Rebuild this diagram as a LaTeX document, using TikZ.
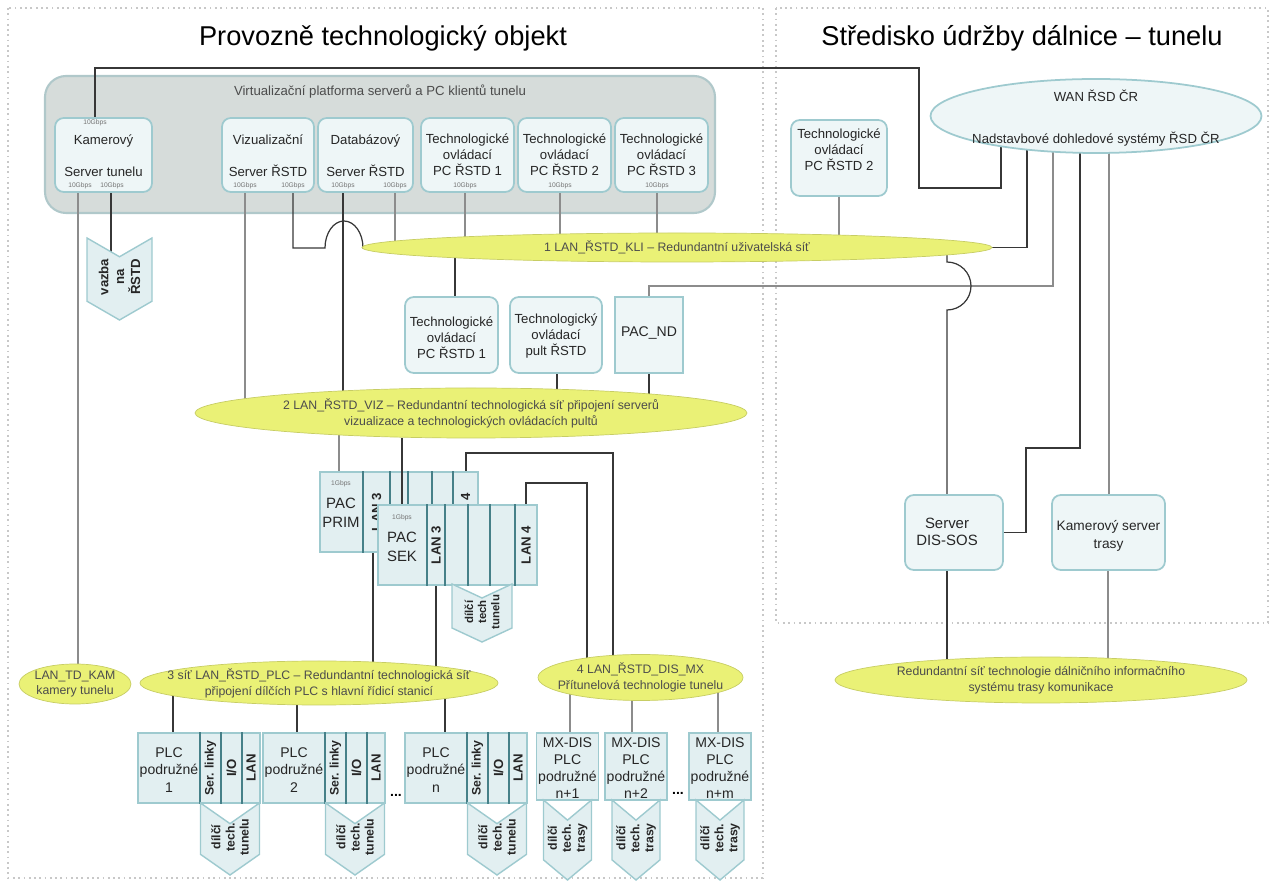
\documentclass[tikz,border=0pt]{standalone}
\usepackage{fontspec}
\setmainfont{Liberation Sans}
\usetikzlibrary{shapes.geometric,shapes.symbols}

\definecolor{lanfill}{RGB}{234,241,118}
\definecolor{platfill}{RGB}{214,220,218}
\definecolor{platedge}{RGB}{176,200,202}
\definecolor{boxfill}{RGB}{238,246,247}
\definecolor{boxedge}{RGB}{158,202,207}
\definecolor{pacfill}{RGB}{226,239,241}
\definecolor{sepline}{RGB}{70,128,136}
\definecolor{wirec}{RGB}{55,55,55}
\definecolor{framec}{RGB}{200,200,200}

\newdimen\px \px=0.02cm
\pgfdeclarelayer{back}
\pgfdeclarelayer{wires}
\pgfsetlayers{back,wires,main}

\tikzset{
  frm/.style={draw=framec, dotted, line width=1pt},
  ttl/.style={font=\fontsize{15.5}{18}\selectfont},
  box/.style={draw=boxedge, fill=boxfill, rounded corners=5pt, line width=1pt},
  txt/.style={align=center, inner sep=0pt, text=black!85, font=\fontsize{7.5}{9}\selectfont},
  rate/.style={inner sep=0pt, text=black!55, font=\fontsize{3.8}{4}\selectfont},
  lan/.style={ellipse, fill=lanfill, draw=lanfill!85!black, line width=0.4pt, inner sep=0pt},
  lantxt/.style={align=center, inner sep=0pt, text=black!70, font=\fontsize{7}{9}\selectfont},
  pac/.style={draw=boxedge, fill=pacfill, line width=0.8pt, inner sep=0pt},
  sepl/.style={draw=sepline, line width=0.6pt},
  col/.style={rotate=90, inner sep=0pt, text=black!85, font=\bfseries\fontsize{7.5}{8}\selectfont},
  chev/.style={signal, signal to=west, signal from=east, signal pointer angle=110, rotate=90,
    draw=boxedge, fill=pacfill, line width=0.8pt, inner sep=0pt},
  chevt/.style={rotate=90, align=center, inner sep=0pt, text=black!85,
    font=\bfseries\fontsize{7}{8}\selectfont},
  wire/.style={draw=wirec, line width=0.7pt},
  lwire/.style={draw=black!45, line width=0.7pt},
}

\begin{document}
\begin{tikzpicture}[x=0.02cm, y=-0.02cm]
\useasboundingbox (0,0) rectangle (1275,884);

\begin{pgfonlayer}{back}
\draw[frm] (8,8) rectangle (763,878);
\draw[frm] (776,8) rectangle (1268,623);
\node[draw=platedge, fill=platfill, rounded corners=12pt, line width=1.2pt,
  minimum width=670*\px, minimum height=137*\px] (plat) at (380,144.5) {};
\end{pgfonlayer}

% titles
\node[ttl] (t1) at (383,38) {Provozně technologický objekt};
\node[ttl] (t2) at (1022,38) {Středisko údržby dálnice – tunelu};
\node[txt, text=black!70] (platt) at (380,92) {Virtualizační platforma serverů a PC klientů tunelu};

% servers on the platform
\node[box, minimum width=97*\px, minimum height=74*\px] (kam) at (103.5,155) {};
\node[box, minimum width=92*\px, minimum height=74*\px] (viz) at (268,155) {};
\node[box, minimum width=95*\px, minimum height=74*\px] (db) at (365.5,155) {};
\node[box, minimum width=93*\px, minimum height=74*\px] (pc1) at (467.5,155) {};
\node[box, minimum width=93*\px, minimum height=74*\px] (pc2) at (564.5,155) {};
\node[box, minimum width=93*\px, minimum height=74*\px] (pc3) at (661.5,155) {};
\node[txt] (kamt) at (103.5,156) {Kamerový\\[9pt]Server tunelu};
\node[txt] (vizt) at (268,156) {Vizualizační\\[9pt]Server ŘSTD};
\node[txt] (dbt) at (365.5,156) {Databázový\\[9pt]Server ŘSTD};
\node[txt] (pc1t) at (467.5,155) {Technologické\\ovládací\\PC ŘSTD 1};
\node[txt] (pc2t) at (564.5,155) {Technologické\\ovládací\\PC ŘSTD 2};
\node[txt] (pc3t) at (661.5,155) {Technologické\\ovládací\\PC ŘSTD 3};
\foreach \i/\x/\y in {1/95/123, 2/80/186, 3/112/186, 4/245/186, 5/293/186, 6/343/186,
  7/395/186, 8/465/186, 9/560/186, 10/657/186, 11/839/181, 12/451.5/306, 13/649/307,
  14/947/507, 15/947/564, 16/992/529, 17/1108.5/507, 18/1108.5/565}
  \node[rate] (r\i) at (\x,\y) {10Gbps};
\node[rate] (r19) at (556,368) {100Mbps};

\node[chev, signal pointer angle=120, minimum width=82*\px, minimum height=65*\px] (vazba) at (119.5,279) {};
\node[chevt, font=\bfseries\fontsize{7.5}{9}\selectfont] (vazbat) at (119.5,277) {vazba\\na\\ŘSTD};

% right part
\node[box, minimum width=96*\px, minimum height=76*\px] (pcr) at (839,158) {};
\node[txt] (pcrt) at (839,150) {Technologické\\ovládací\\PC ŘSTD 2};
\node[ellipse, draw=boxedge, fill=boxfill, line width=1pt, inner sep=0pt,
  minimum width=331*\px, minimum height=74*\px] (wan) at (1096,116) {};
\node[txt] (want) at (1096,118) {WAN ŘSD ČR\\[15pt]Nadstavbové dohledové systémy ŘSD ČR};
\node[box, minimum width=98*\px, minimum height=75*\px] (dis) at (954,532.5) {};
\node[txt, font=\fontsize{8.5}{10}\selectfont] (dist) at (947,532) {Server\\DIS-SOS};
\node[box, minimum width=113*\px, minimum height=75*\px] (kst) at (1108.5,532.5) {};
\node[txt, font=\fontsize{7.8}{10}\selectfont] (kstt) at (1108.5,536) {Kamerový server\\trasy};

% networks
\node[lan, minimum width=630*\px, minimum height=29*\px] (lan1) at (677,247.5) {};
\node[lantxt] (lan1t) at (lan1) {1 LAN\_ŘSTD\_KLI – Redundantní uživatelská síť};
\node[lan, minimum width=552*\px, minimum height=50*\px] (lan2) at (471,413) {};
\node[lantxt] (lan2t) at (lan2) {2 LAN\_ŘSTD\_VIZ – Redundantní technologická síť připojení serverů\\vizualizace a technologických ovládacích pultů};
\node[lan, minimum width=112*\px, minimum height=40*\px] (tdkam) at (75,684) {};
\node[lantxt] (tdkamt) at (tdkam) {LAN\_TD\_KAM\\kamery tunelu};
\node[lan, minimum width=358*\px, minimum height=44*\px] (lan3) at (319,683) {};
\node[lantxt] (lan3t) at (lan3) {3 síť LAN\_ŘSTD\_PLC – Redundantní technologická síť\\připojení dílčích PLC s hlavní řídicí stanicí};
\node[lan, minimum width=205*\px, minimum height=46*\px] (lan4) at (640.5,677.5) {};
\node[lantxt] (lan4t) at (lan4) {4 LAN\_ŘSTD\_DIS\_MX\\Přítunelová technologie tunelu};
\node[lan, minimum width=412*\px, minimum height=46*\px] (lan3r) at (1041,680) {};
\node[lantxt] (lan3rt) at (lan3r) {Redundantní síť technologie dálničního informačního\\systému trasy komunikace};

% operator desks
\node[box, minimum width=93*\px, minimum height=76*\px] (pcl) at (451.5,335) {};
\node[txt] (pclt) at (451.5,338) {Technologické\\ovládací\\PC ŘSTD 1};
\node[box, minimum width=92*\px, minimum height=76*\px] (pult) at (556,335) {};
\node[txt] (pultt) at (556,336) {Technologický\\ovládací\\pult ŘSTD};
\node[box, rounded corners=0pt, minimum width=68*\px, minimum height=76*\px] (pacnd) at (649,335) {};
\node[txt, font=\fontsize{8}{9}\selectfont] (pacndt) at (649,333) {PAC\_ND};

% PAC PRIM / SEK
\node[pac, minimum width=158*\px, minimum height=80*\px] (prim) at (399,512) {};
\foreach \cx in {363,390,408,432,453} \draw[sepl] (prim.north -| \cx,0) -- (prim.south -| \cx,0);
\node[txt, font=\fontsize{8.5}{11}\selectfont] (primt) at (341,513) {PAC\\PRIM};
\node[col] (prim3) at (376.5,512) {LAN 3};
\node[col] (prim4) at (465.5,512) {LAN 4};
\node[rate] (r20) at (341,484) {1Gbps};
\node[pac, minimum width=159*\px, minimum height=80*\px] (sek) at (457.5,545) {};
\foreach \cx in {427,445,468,490,515} \draw[sepl] (sek.north -| \cx,0) -- (sek.south -| \cx,0);
\node[txt, font=\fontsize{8.5}{11}\selectfont] (sekt) at (402,547) {PAC\\SEK};
\node[col] (sek3) at (436,545) {LAN 3};
\node[col] (sek4) at (526,545) {LAN 4};
\node[rate] (r21) at (402,518) {1Gbps};
\node[chev, signal pointer angle=130, minimum width=58*\px, minimum height=60*\px] (sekc) at (482,613) {};
\node[chevt, font=\bfseries\fontsize{6.5}{7.5}\selectfont] (sekct) at (482,612) {dílčí\\tech\\tunelu};

% PLC
\foreach \nm/\lx/\pn in {plc1/138/1, plc2/263/2, plcn/405/n} {
  \node[pac, minimum width=122*\px, minimum height=70*\px] (\nm) at (\lx+61,768) {};
  \foreach \cx in {62,83,104} \draw[sepl] (\nm.north -| \lx+\cx,0) -- (\nm.south -| \lx+\cx,0);
  \node[txt, font=\fontsize{8}{10}\selectfont] (\nm t) at (\lx+31,770) {PLC\\podružné\\\pn};
  \node[col, font=\bfseries\fontsize{7}{8}\selectfont] (\nm s) at (\lx+72.5,768) {Ser. linky};
  \node[col] (\nm i) at (\lx+93.5,768) {I/O};
  \node[col] (\nm l) at (\lx+113,768) {LAN};
  \node[chev, minimum width=72*\px, minimum height=59*\px] (\nm c) at (\lx+92,839) {};
  \node[chevt] (\nm ct) at (\lx+92,837) {dílčí\\tech.\\tunelu};
}
\foreach \nm/\cx/\pn in {mx1/567.5/n+1, mx2/636/n+2, mxm/720/n+m} {
  \node[pac, minimum width=62*\px, minimum height=67*\px] (\nm) at (\cx,766.5) {};
  \node[txt, font=\fontsize{8}{9.6}\selectfont] (\nm t) at (\cx,768) {MX-DIS\\PLC\\podružné\\\pn};
  \node[chev, signal pointer angle=100, minimum width=80*\px, minimum height=48*\px] (\nm c) at (\cx,840) {};
  \node[chevt] (\nm ct) at (\cx,838) {dílčí\\tech.\\trasy};
}
\node[font=\bfseries\fontsize{8}{8}\selectfont] (dots1) at (396,795) {...};
\node[font=\bfseries\fontsize{8}{8}\selectfont] (dots2) at (678,793) {...};

% connections
\begin{pgfonlayer}{wires}
\draw[wire] (kam.north -| 95,0) |- (919,68) |- (1001,188) -- (wan.center -| 1001,0);
\draw[lwire] (kam.south -| 78,0) -- (tdkam.center -| 78,0);
\draw[wire] (kam.south -| 111,0) -- (vazba.center -| 111,0);
\draw[lwire] (viz.south -| 245,0) -- (lan2.center -| 245,0);
\draw[wire] (viz.south -| 293,0) |- (325,248) arc[start angle=180, end angle=360, x radius=19, y radius=27] -- (lan1.center);
\draw[wire] (db.south -| 343,0) -- (lan2.center -| 343,0);
\draw[lwire] (db.south -| 395,0) -- (lan1.center -| 395,0);
\foreach \nm/\tx in {pc1/465, pc2/560, pc3/657} \draw[lwire] (\nm.south -| \tx,0) -- (lan1.center -| \tx,0);
\draw[lwire] (pcr.south) -- (lan1.center -| pcr.south);
\draw[wire] (wan.center -| 1027,0) |- (lan1.center);
\draw[lwire] (wan.center -| 1053,0) |- (pacnd.north |- 0,286) -- (pacnd.north);
\draw[wire] (lan1.center -| 947,0) -- (947,262) arc[start angle=-90, end angle=90, radius=24] -- (dis.north -| 947,0);
\draw[wire] (wan.center -| 1080,0) |- (1026,448) |- (dis.east);
\draw[lwire] (wan.center -| 1109,0) -- (kst.north -| 1109,0);
\draw[wire] (dis.south -| 947,0) -- (lan3r.center -| 947,0);
\draw[lwire] (kst.south -| 1108,0) -- (lan3r.center -| 1108,0);
\draw[wire] (lan1.center -| 455,0) -- (pcl.north -| 455,0);
\draw[wire] (pult.south -| 557,0) -- (lan2.center -| 557,0);
\draw[wire] (pacnd.south) -- (lan2.center -| pacnd.south);
\draw[lwire] (lan2.center -| 339,0) -- (prim.north -| 339,0);
\draw[wire] (prim.north -| 466,0) |- (613,453) -- (lan4.center -| 613,0);
\draw[wire] (sek.north -| 526,0) |- (587,483) -- (lan4.center -| 587,0);
\draw[wire] (prim.south -| 373,0) -- (lan3.center -| 373,0);
\draw[wire] (sek.south -| 436,0) -- (lan3.center -| 436,0);
\foreach \nm/\tx in {plc1/173, plc2/297, plcn/445} \draw[wire] (lan3.center -| \tx,0) -- (\nm.north -| \tx,0);
\foreach \nm/\tx in {mx1/570, mx2/632, mxm/718} \draw[lwire] (lan4.center -| \tx,0) -- (\nm.north -| \tx,0);
\end{pgfonlayer}
\draw[wire] (lan2.south -| 402,0) -- (sek.north -| 402,0);
\end{tikzpicture}
\end{document}
